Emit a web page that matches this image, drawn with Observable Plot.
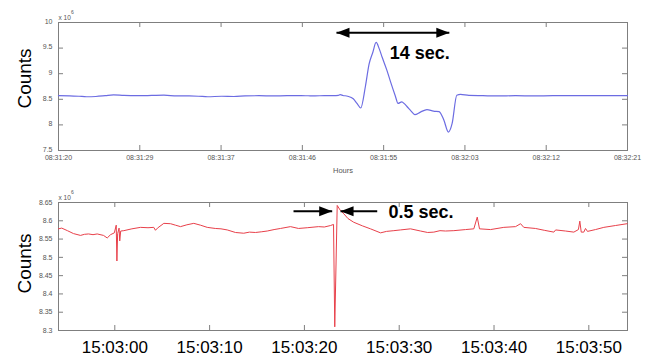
<!DOCTYPE html>
<html><head><meta charset="utf-8">
<script src="https://cdn.jsdelivr.net/npm/d3@7"></script>
<script src="https://cdn.jsdelivr.net/npm/@observablehq/plot@0.6"></script>
<style>
html,body{margin:0;padding:0;background:#fff;}
#chart{position:relative;width:653px;height:357px;font-family:"Liberation Sans",Arial,sans-serif;}
#chart svg{position:absolute;left:0;display:block;}
</style></head><body><div id="chart"></div>
<script>
// ---------- Top panel (seconds after 08:31:20, counts x 10^6) ----------
const topTime = [0, 1.2, 2.2, 3.0, 4.0, 5.0, 5.9, 7.0, 8.5, 10, 11.3, 12.7, 14, 15, 16, 17.5, 18.8, 20, 21.5, 23, 24.5, 26, 27.5, 28.5, 29.5, 30.0, 30.2, 30.5, 31.0, 31.6, 32.0, 32.4, 32.9, 33.3, 33.7, 34.05, 34.4, 34.7, 35.2, 35.6, 36.1, 36.4, 36.8, 37.1, 37.4, 37.8, 38.2, 38.8, 39.5, 40.2, 40.8, 41.3, 41.8, 42.2, 42.7, 43.1, 44, 45.5, 47, 49, 51, 53, 55, 57, 59, 61];
const topCounts = [8.57, 8.568, 8.56, 8.55, 8.555, 8.57, 8.585, 8.575, 8.57, 8.575, 8.58, 8.565, 8.565, 8.56, 8.55, 8.56, 8.555, 8.565, 8.57, 8.565, 8.57, 8.57, 8.568, 8.57, 8.57, 8.575, 8.59, 8.575, 8.56, 8.51, 8.42, 8.33, 8.75, 9.19, 9.42, 9.61, 9.48, 9.32, 9.07, 8.84, 8.57, 8.42, 8.45, 8.41, 8.35, 8.27, 8.20, 8.25, 8.30, 8.27, 8.26, 8.10, 7.86, 8.03, 8.58, 8.595, 8.575, 8.57, 8.565, 8.57, 8.565, 8.57, 8.57, 8.57, 8.57, 8.57];
const topXTicks = [0, 8.714, 17.429, 26.143, 34.857, 43.571, 52.286, 61];
const topXLabels = ["08:31:20", "08:31:29", "08:31:37", "08:31:46", "08:31:55", "08:32:03", "08:32:12", "08:32:21"];
const topYTicks = [7.5, 8, 8.5, 9, 9.5, 10];
const topYLabels = ["7.5", "8", "8.5", "9", "9.5", "10"];
const topArrow = [{x1: 29.8, x2: 41.9, y: 9.8}];
const topHeads = [{x: 29.8, y: 9.8, dir: 180}, {x: 41.9, y: 9.8, dir: 0}];
const topNote = [{x: 35.5, y: 9.395, text: "14 sec."}];

// ---------- Bottom panel (seconds after 15:03:00, counts x 10^6) ----------
const botTime = [-5.94, -5.6, -5.0, -4.36, -3.62, -3.2, -2.77, -2.3, -1.86, -1.19, -0.8, -0.45, -0.05, 0.15, 0.22, 0.3, 0.45, 0.52, 0.62, 0.95, 1.8, 2.71, 3.5, 4.11, 4.29, 4.5, 5.17, 5.88, 6.4, 6.93, 7.6, 8.33, 9.04, 9.75, 10.6, 11.2, 11.86, 12.73, 13.6, 14.2, 14.84, 15.5, 16.08, 16.8, 17.48, 18.53, 19.38, 20.3, 21.49, 22.1, 22.75, 23.07, 23.2, 23.46, 23.8, 24.16, 24.6, 25.2, 26.13, 26.97, 28.03, 28.66, 29.43, 30.14, 31.19, 32.25, 33.0, 33.65, 34.3, 34.88, 35.76, 37.0, 37.87, 38.23, 38.47, 39.63, 41.03, 42.27, 42.8, 43.14, 44.37, 45.3, 46.31, 46.5, 47.54, 48.42, 48.9, 49.05, 49.2, 49.47, 49.65, 49.86, 50.7, 51.58, 52.8, 54.04];
const botCounts = [8.578, 8.58, 8.573, 8.565, 8.56, 8.563, 8.564, 8.562, 8.564, 8.56, 8.553, 8.562, 8.567, 8.588, 8.49, 8.565, 8.58, 8.545, 8.572, 8.573, 8.578, 8.582, 8.581, 8.582, 8.574, 8.58, 8.593, 8.592, 8.588, 8.584, 8.589, 8.593, 8.588, 8.582, 8.579, 8.578, 8.575, 8.568, 8.566, 8.569, 8.568, 8.57, 8.572, 8.576, 8.579, 8.584, 8.579, 8.581, 8.584, 8.583, 8.587, 8.59, 8.31, 8.642, 8.628, 8.619, 8.606, 8.596, 8.586, 8.578, 8.567, 8.571, 8.573, 8.575, 8.578, 8.572, 8.568, 8.569, 8.573, 8.572, 8.573, 8.576, 8.578, 8.61, 8.578, 8.576, 8.582, 8.584, 8.592, 8.582, 8.579, 8.574, 8.569, 8.575, 8.572, 8.569, 8.576, 8.599, 8.569, 8.569, 8.579, 8.571, 8.576, 8.582, 8.587, 8.592];
const botXTicks = [0, 10, 20, 30, 40, 50];
const botXLabels = ["15:03:00", "15:03:10", "15:03:20", "15:03:30", "15:03:40", "15:03:50"];
const botYTicks = [8.3, 8.35, 8.4, 8.45, 8.5, 8.55, 8.6, 8.65];
const botYLabels = ["8.3", "8.35", "8.4", "8.45", "8.5", "8.55", "8.6", "8.65"];
const botArrows = [{x1: 18.85, x2: 22.93, y: 8.626}, {x1: 27.68, x2: 23.81, y: 8.626}];
const botHeads = [{x: 22.93, y: 8.626, dir: 0}, {x: 23.81, y: 8.626, dir: 180}];
const botNote = [{x: 28.87, y: 8.6235, text: "0.5 sec."}];

const topData = topTime.map((t, i) => ({t, v: topCounts[i]}));
const botData = botTime.map((t, i) => ({t, v: botCounts[i]}));

const FONT = '"Liberation Sans", Arial, sans-serif';
const W = 653;
const FRAME = "#7f7f7f";
const LABEL = "#555";

function head(L, H) {
  return {draw(ctx) { ctx.moveTo(0, 0); ctx.lineTo(-L, -H / 2); ctx.lineTo(-L, H / 2); ctx.closePath(); }};
}

function panel(o) {
  const plotW = W - o.ml - o.mr, plotH = o.h - o.mt - o.mb;
  return Plot.plot({
    width: W, height: o.h,
    marginLeft: o.ml, marginRight: o.mr, marginTop: o.mt, marginBottom: o.mb,
    x: {domain: o.xd, axis: null},
    y: {domain: o.yd, axis: null},
    style: {fontFamily: FONT, background: "transparent", overflow: "visible"},
    marks: [
      Plot.ruleX(o.xt, {x: d => d, insetTop: plotH - 5, stroke: FRAME}),
      Plot.ruleX(o.xt, {x: d => d, insetBottom: plotH - 5, stroke: FRAME}),
      Plot.ruleY(o.yt, {y: d => d, insetRight: plotW - 5, stroke: FRAME}),
      Plot.ruleY(o.yt, {y: d => d, insetLeft: plotW - 5, stroke: FRAME}),
      Plot.frame({stroke: FRAME}),
      Plot.line(o.data, {x: "t", y: "v", stroke: o.color, strokeWidth: o.lw, curve: o.curve}),
      Plot.text(o.xt, {x: d => d, text: (d, i) => o.xl[i], frameAnchor: "bottom", lineAnchor: "middle", dy: o.xdy, fontSize: o.xfs, fill: o.xfill}),
      Plot.text(o.yt, {y: d => d, text: (d, i) => o.yl[i], frameAnchor: "left", textAnchor: "end", dx: -6, dy: o.ydy || 0, fontSize: 7, fill: LABEL}),
      Plot.text(["x 10"], {frameAnchor: "top-left", textAnchor: "start", lineAnchor: "middle", dy: -5, fontSize: 6.5, fill: LABEL}),
      Plot.text(["6"], {frameAnchor: "top-left", textAnchor: "start", lineAnchor: "middle", dx: 12.5, dy: -10, fontSize: 5, fill: LABEL}),
      Plot.text(["Counts"], {frameAnchor: "left", rotate: -90, textAnchor: "middle", lineAnchor: "middle", dx: -34, dy: o.cdy, fontSize: 19, fill: "#000"}),
      ...(o.extra || []),
      Plot.link(o.arrows, {x1: "x1", x2: "x2", y1: "y", y2: "y", stroke: "#000", strokeWidth: 2}),
      Plot.dot(o.heads, {x: "x", y: "y", rotate: "dir", symbol: head(13, 10), fill: "#000", stroke: "none"}),
      Plot.text(o.note, {x: "x", y: "y", text: "text", textAnchor: "start", lineAnchor: "middle", fontSize: 18, fontWeight: "bold", fill: "#000"})
    ]
  });
}

const topPlot = panel({
  h: 180, ml: 58, mr: 26, mt: 22, mb: 30,
  xd: [0, 61], yd: [7.5, 10], xt: topXTicks, xl: topXLabels, yt: topYTicks, yl: topYLabels,
  xdy: 7, xfs: 7, xfill: LABEL, cdy: -8, ydy: -1,
  data: topData, color: "#6c6ce2", lw: 1.2, curve: "monotone-x",
  arrows: topArrow, heads: topHeads, note: topNote,
  extra: [Plot.text(["Hours"], {frameAnchor: "bottom", lineAnchor: "middle", dy: 20, fontSize: 7.5, fill: LABEL})]
});
const botPlot = panel({
  h: 177, ml: 58, mr: 26, mt: 22, mb: 27,
  xd: [-5.94, 54.08], yd: [8.3, 8.65], xt: botXTicks, xl: botXLabels, yt: botYTicks, yl: botYLabels,
  xdy: 17, xfs: 17, xfill: "#000", cdy: -3,
  data: botData, color: "#e8404a", lw: 1, curve: "linear",
  arrows: botArrows, heads: botHeads, note: botNote
});
topPlot.style.top = "0px";
botPlot.style.top = "180px";
const chart = document.getElementById("chart");
chart.appendChild(topPlot);
chart.appendChild(botPlot);
</script>
</body></html>
